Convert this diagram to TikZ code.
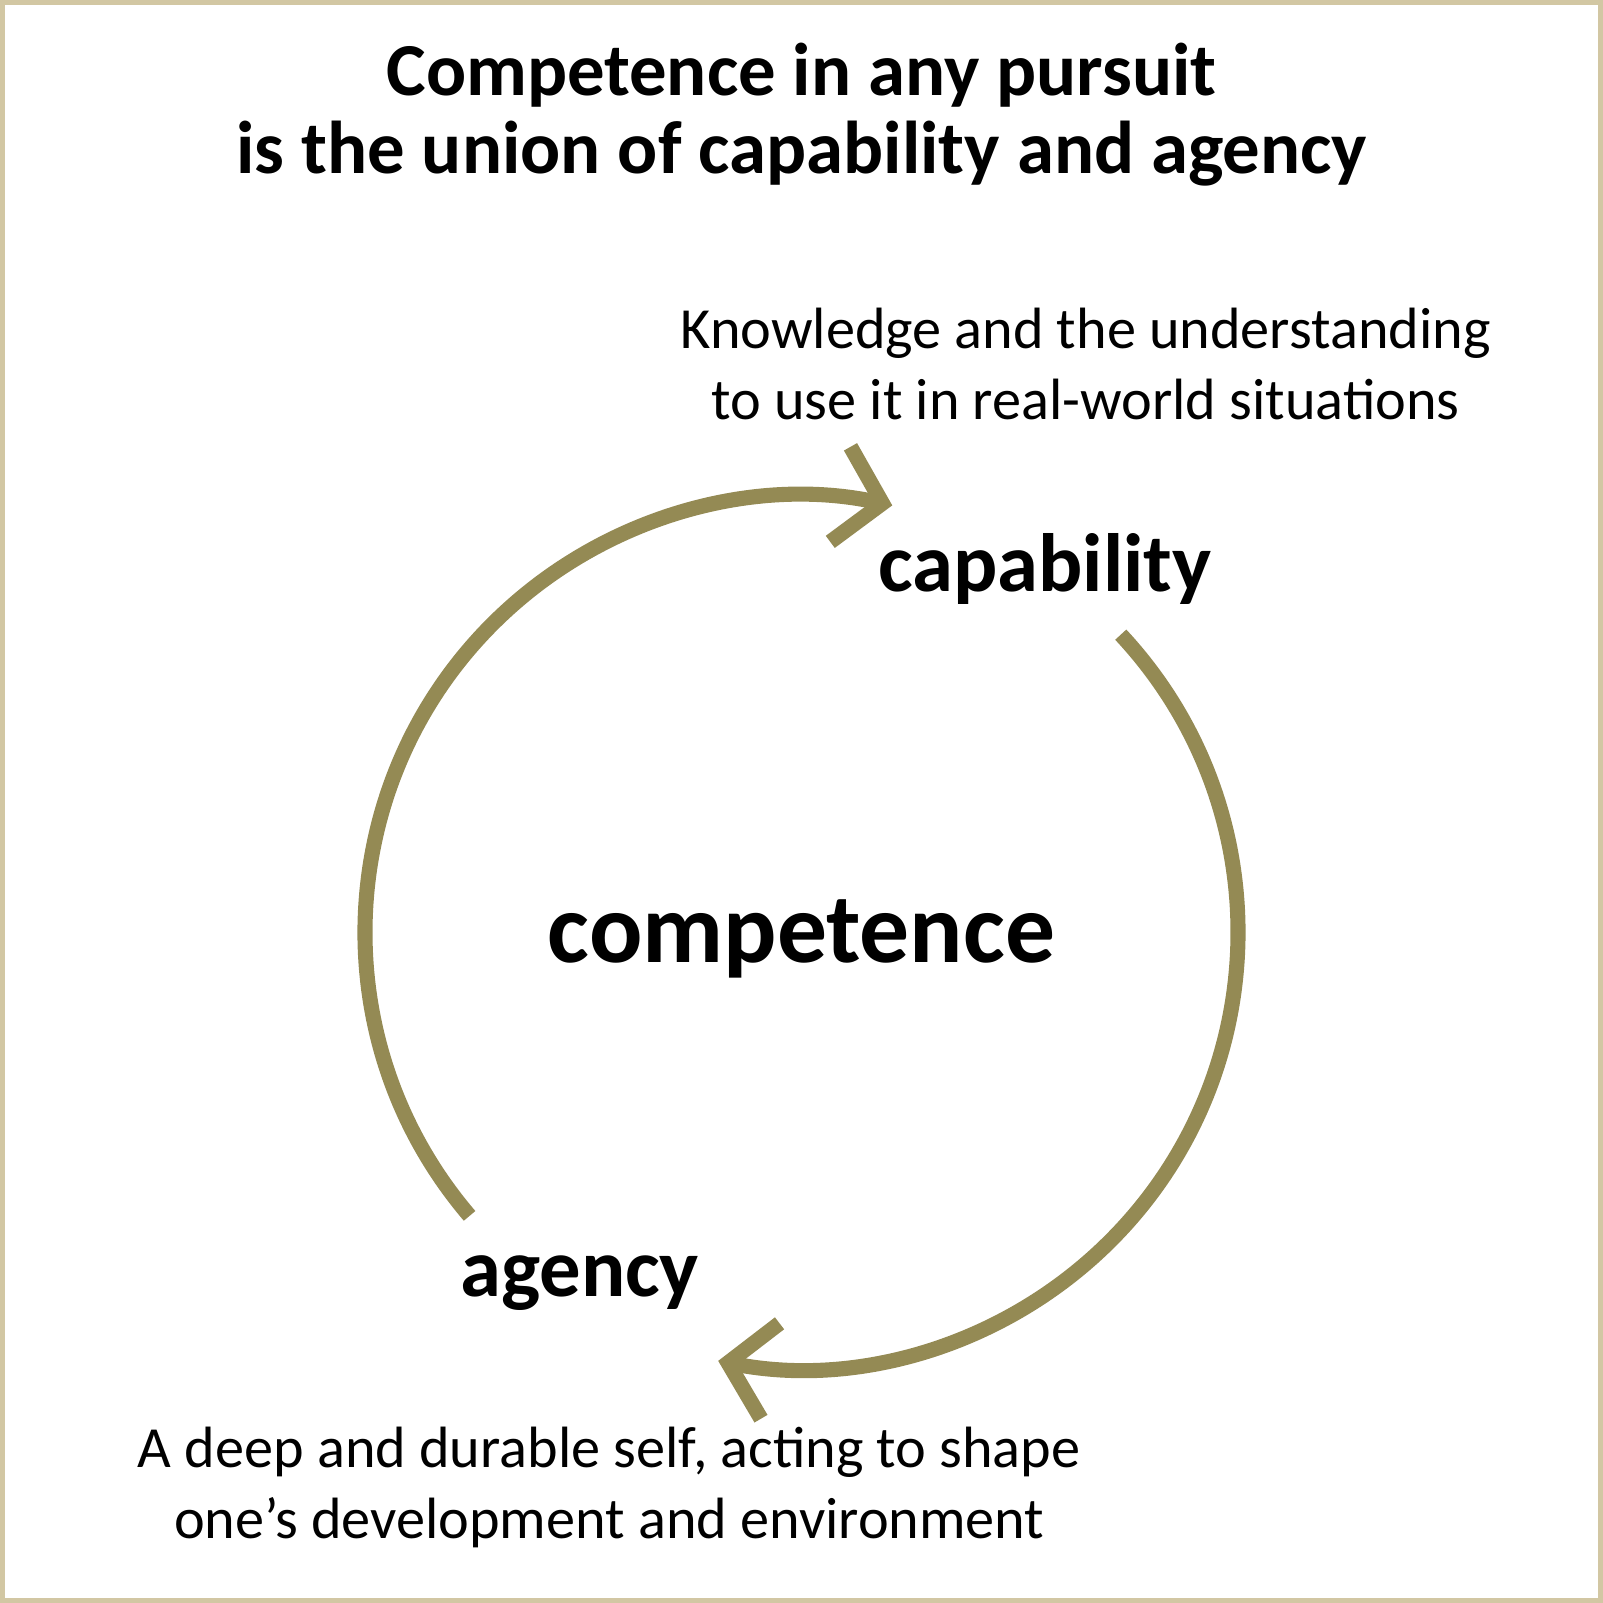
\documentclass[tikz,border=0pt]{standalone}
\usepackage{fontspec}
\setmainfont{Carlito}
\usetikzlibrary{arrows.meta}
\definecolor{olive}{HTML}{948A54}
\definecolor{frame}{HTML}{D2C7A3}
\begin{document}
\begin{tikzpicture}[x=0.01cm,y=-0.01cm,
  arc/.style={draw=olive,line width=4.2pt},
  tip/.style={-{Straight Barb[length=0.42cm,width=0.95cm,line width=4.2pt]}},
  desc/.style={align=center,font=\fontsize{16.2}{19.5}\selectfont},
  lbl/.style={font=\bfseries\fontsize{23}{27}\selectfont}]
\useasboundingbox (0,0) rectangle (1568,1568);
\draw[frame,line width=1.5pt] (2,2) rectangle (1566,1566);
\node[align=center,font=\bfseries\fontsize{20.8}{21.5}\selectfont] (title) at (784,112) {Competence in any pursuit\\is the union of capability and agency};
\node[desc] (kn) at (1062,356) {Knowledge and the understanding\\to use it in real-world situations};
\node[lbl] (cap) at (1022,557) {capability};
\node[lbl] (ag) at (567,1255) {agency};
\node[desc] (ad) at (596,1455) {A deep and durable self, acting to shape\\one’s development and environment};
\node[font=\bfseries\fontsize{27.7}{30}\selectfont] (comp) at (784,918) {competence};
\coordinate (c) at (784,912);
\draw[arc,tip] ([shift={(-220.5:427)}]c) arc[start angle=-220.5,end angle=-78,radius=427];
\draw[arc,tip] ([shift={(-43:427)}]c) arc[start angle=-43,end angle=101,radius=427];
\end{tikzpicture}
\end{document}
